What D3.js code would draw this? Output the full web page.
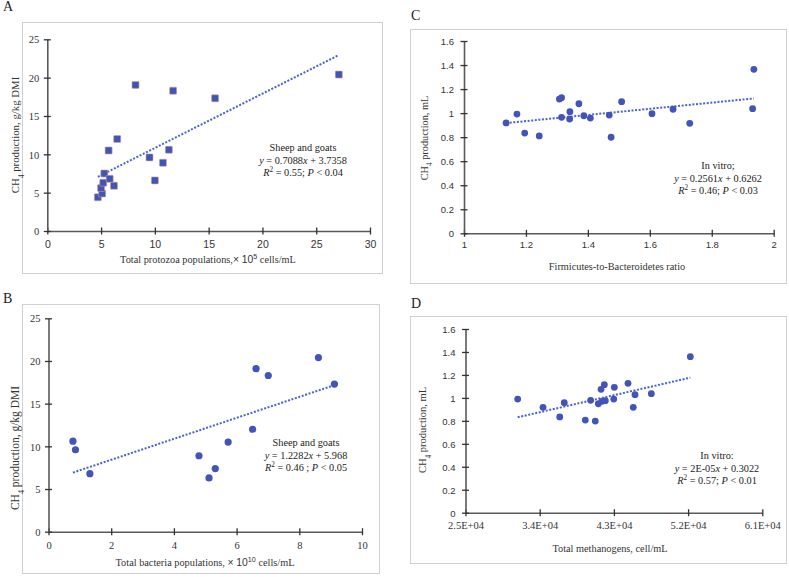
<!DOCTYPE html>
<html>
<head>
<meta charset="utf-8">
<script src="https://cdn.jsdelivr.net/npm/d3@7/dist/d3.min.js"></script>
<style>
  html, body { margin: 0; padding: 0; background: #fff; }
  svg { display: block; }
</style>
</head>
<body>
<svg id="chart" width="789" height="577"></svg>
<script>
// ---------------- DATA ----------------
// Panel A: total protozoa (x 10^5 cells/mL) vs CH4 (g/kg DMI)
const protozoaX = [4.7, 5.1, 5.0, 5.2, 5.3, 5.8, 6.2, 5.7, 6.5, 8.2, 9.5, 10.0, 10.75, 11.3, 11.7, 15.6, 27.1];
const protozoaCH4 = [4.4, 4.9, 5.6, 6.3, 7.5, 6.8, 5.9, 10.5, 12.0, 19.05, 9.6, 6.6, 8.9, 10.6, 18.3, 17.3, 20.4];
const trendA = [0.7088, 3.7358];
const ticksA_X = [0, 5, 10, 15, 20, 25, 30];
const ticksA_Y = [0, 5, 10, 15, 20, 25];

// Panel B: total bacteria (x 10^10 cells/mL) vs CH4 (g/kg DMI)
const bacteriaX = [0.78, 0.86, 1.32, 4.8, 5.12, 5.32, 5.73, 6.51, 6.62, 7.01, 8.61, 9.12];
const bacteriaCH4 = [10.6, 9.6, 6.8, 8.9, 6.3, 7.4, 10.5, 12.0, 19.1, 18.3, 20.4, 17.3];
const trendB = [1.2282, 5.968];
const ticksB_X = [0, 2, 4, 6, 8, 10];
const ticksB_Y = [0, 5, 10, 15, 20, 25];

// Panel C: Firmicutes-to-Bacteroidetes ratio vs CH4 (mL)
const fbRatioX = [1.136, 1.171, 1.196, 1.243, 1.308, 1.315, 1.315, 1.342, 1.341, 1.371, 1.387, 1.408, 1.469, 1.475, 1.509, 1.607, 1.675, 1.729, 1.932, 1.936];
const fbCH4 = [0.918, 0.992, 0.834, 0.81, 1.117, 1.128, 0.965, 1.012, 0.951, 1.078, 0.978, 0.959, 0.984, 0.799, 1.095, 0.995, 1.032, 0.915, 1.037, 1.364];
const trendC = [0.2561, 0.6262];
const ticksC_X = [1, 1.2, 1.4, 1.6, 1.8, 2];
const ticksC_Y = [0, 0.2, 0.4, 0.6, 0.8, 1, 1.2, 1.4, 1.6];

// Panel D: total methanogens (cell/mL) vs CH4 (mL)
const methanogensX = [31330, 34400, 36430, 36980, 39530, 40180, 40740, 41110, 41440, 41560, 41840, 41960, 42980, 43050, 44710, 45350, 45560, 47540, 52270];
const methanogensCH4 = [0.990, 0.918, 0.834, 0.958, 0.807, 0.979, 0.798, 0.949, 1.075, 0.970, 1.115, 0.976, 0.990, 1.092, 1.127, 0.918, 1.028, 1.037, 1.359];
const trendD = [1.65e-5, 0.314];
const ticksD_X = [25000, 34000, 43000, 52000, 61000];
const ticksD_Y = [0, 0.2, 0.4, 0.6, 0.8, 1, 1.2, 1.4, 1.6];

// ---------------- DRAWING ----------------
const SERIF = "'Liberation Serif', 'Times New Roman', serif";
const SANS = "'Liberation Sans', Arial, sans-serif";
const MARK = "#4354b8";
const LINE = "#4a62d0";
const AXIS = "#595959";

const svg = d3.select("#chart");
svg.append("rect").attr("width", 789).attr("height", 577).attr("fill", "#fff");

function expFmt(v) {
  const e = Math.floor(Math.log10(v));
  const m = v / Math.pow(10, e);
  return m.toFixed(1) + "E+" + String(e).padStart(2, "0");
}

function addRich(textSel, parts) {
  parts.forEach(p => {
    const t = textSel.append("tspan").text(p.t);
    if (p.i) t.attr("font-style", "italic");
    if (p.f) t.attr("font-family", p.f);
    if (p.sub) t.attr("font-size", "0.7em").attr("baseline-shift", "sub");
    if (p.sup) t.attr("font-size", "0.7em").attr("baseline-shift", "super");
  });
}

function drawPanel(cfg) {
  const g = svg.append("g");
  g.append("rect")
    .attr("x", cfg.frame[0] + 0.5).attr("y", cfg.frame[1] + 0.5)
    .attr("width", cfg.frame[2] - cfg.frame[0]).attr("height", cfg.frame[3] - cfg.frame[1])
    .attr("fill", "#fff").attr("stroke", "#d0d0d0").attr("stroke-width", 1);

  g.append("text").attr("x", cfg.letter[0]).attr("y", cfg.letter[1])
    .attr("font-family", SERIF).attr("font-size", 14).attr("fill", "#222").text(cfg.name);

  const x = d3.scaleLinear().domain(cfg.xDomain).range([cfg.plot[0], cfg.plot[2]]);
  const y = d3.scaleLinear().domain(cfg.yDomain).range([cfg.plot[3], cfg.plot[1]]);

  // trend line
  const x0 = d3.min(cfg.xs), x1 = d3.max(cfg.xs);
  const tl = [x0, x1].map(v => [v, cfg.trend[0] * v + cfg.trend[1]]);
  g.append("path")
    .attr("d", d3.line().x(d => x(d[0])).y(d => y(d[1]))(tl))
    .attr("fill", "none").attr("stroke", LINE).attr("stroke-width", 2)
    .attr("stroke-dasharray", "2,1.6");

  // x axis
  const xa = g.append("g").attr("transform", `translate(0,${cfg.plot[3]})`)
    .call(d3.axisBottom(x).tickValues(cfg.xTicks).tickFormat(cfg.xFmt).tickSizeInner(4).tickSizeOuter(0));
  xa.select(".domain").attr("stroke", AXIS).attr("stroke-width", 1.6);
  xa.selectAll(".tick line").attr("stroke", "#333").attr("stroke-width", 1.3).attr("y1", -3.5).attr("y2", 3.5);
  xa.selectAll(".tick text").attr("y", cfg.xLabelDy).attr("dy", 0)
    .attr("font-family", cfg.xFont).attr("font-size", cfg.xFontSize).attr("fill", "#333");

  // y axis
  const ya = g.append("g").attr("transform", `translate(${cfg.plot[0]},0)`)
    .call(d3.axisLeft(y).tickValues(cfg.yTicks).tickFormat(cfg.yFmt).tickSizeInner(4).tickSizeOuter(0));
  ya.select(".domain").attr("stroke", AXIS).attr("stroke-width", 1.6);
  ya.selectAll(".tick line").attr("stroke", "#333").attr("stroke-width", 1.3).attr("x1", -3.5).attr("x2", 3.5);
  ya.selectAll(".tick text").attr("x", -cfg.yLabelGap).attr("dy", "0.35em")
    .attr("font-family", cfg.yFont).attr("font-size", cfg.yFontSize).attr("fill", "#333");

  // markers
  const pts = cfg.xs.map((v, i) => [v, cfg.ys[i]]);
  if (cfg.square) {
    g.selectAll("rect.pt").data(pts).join("rect").attr("class", "pt")
      .attr("x", d => x(d[0]) - 3.5).attr("y", d => y(d[1]) - 3.5)
      .attr("width", 7).attr("height", 7).attr("rx", 0.8)
      .attr("fill", MARK).attr("stroke", "#c9a58a").attr("stroke-width", 0.6);
  } else {
    g.selectAll("circle.pt").data(pts).join("circle").attr("class", "pt")
      .attr("cx", d => x(d[0])).attr("cy", d => y(d[1])).attr("r", cfg.r)
      .attr("fill", MARK);
  }

  // axis titles
  const xt = g.append("text").attr("x", cfg.xTitle[0]).attr("y", cfg.xTitle[1])
    .attr("text-anchor", "middle").attr("font-family", SERIF).attr("font-size", cfg.xTitleSize).attr("fill", "#333");
  addRich(xt, cfg.xTitleParts);

  const yt = g.append("text")
    .attr("transform", `translate(${cfg.yTitle[0]},${cfg.yTitle[1]}) rotate(-90)`)
    .attr("text-anchor", "middle").attr("font-family", SERIF).attr("font-size", cfg.yTitleSize).attr("fill", "#333");
  addRich(yt, cfg.yTitleParts);

  // annotation
  cfg.note.forEach((line, i) => {
    const t = g.append("text").attr("x", cfg.noteXY[0]).attr("y", cfg.noteXY[1] + i * 12.6)
      .attr("text-anchor", "middle").attr("font-family", SERIF).attr("font-size", 10.3).attr("fill", "#222");
    addRich(t, line);
  });
}

const ch4Title = unit => [{t: "CH"}, {t: "4", sub: true}, {t: " production, " + unit}];

drawPanel({
  name: "A", letter: [3, 11], frame: [22, 22, 382, 273],
  plot: [47.3, 39.3, 370, 231],
  xDomain: [0, 30], yDomain: [0, 25], xs: protozoaX, ys: protozoaCH4, trend: trendA,
  xTicks: ticksA_X, yTicks: ticksA_Y, xFmt: d3.format("d"), yFmt: d3.format("d"),
  xFont: SANS, xFontSize: 10.5, xLabelDy: 17, yFont: SERIF, yFontSize: 10.5, yLabelGap: 8,
  square: true,
  xTitle: [208, 263], xTitleSize: 10.3,
  xTitleParts: [{t: "Total protozoa populations,"}, {t: "× 10", f: SANS}, {t: "5", sup: true, f: SANS}, {t: " cells/mL"}],
  yTitle: [19, 135], yTitleSize: 10.8, yTitleParts: ch4Title("g/kg DMI"),
  noteXY: [303, 151],
  note: [
    [{t: "Sheep and goats"}],
    [{t: "y", i: true}, {t: " = 0.7088"}, {t: "x", i: true}, {t: " + 3.7358"}],
    [{t: "R", i: true}, {t: "2", sup: true}, {t: " = 0.55; "}, {t: "P", i: true}, {t: " < 0.04"}]
  ]
});

drawPanel({
  name: "B", letter: [3, 303], frame: [22, 304, 379, 573],
  plot: [48.5, 318.3, 362, 531.7],
  xDomain: [0, 10], yDomain: [0, 25], xs: bacteriaX, ys: bacteriaCH4, trend: trendB,
  xTicks: ticksB_X, yTicks: ticksB_Y, xFmt: d3.format("d"), yFmt: d3.format("d"),
  xFont: SERIF, xFontSize: 10.5, xLabelDy: 17, yFont: SERIF, yFontSize: 10.5, yLabelGap: 8,
  square: false, r: 3.6,
  xTitle: [205, 566], xTitleSize: 10.3,
  xTitleParts: [{t: "Total bacteria populations, "}, {t: "× 10", f: SANS}, {t: "10", sup: true, f: SANS}, {t: " cells/mL"}],
  yTitle: [19, 448], yTitleSize: 11.5, yTitleParts: ch4Title("g/kg DMI"),
  noteXY: [306, 446],
  note: [
    [{t: "Sheep and goats"}],
    [{t: "y", i: true}, {t: " = 1.2282"}, {t: "x", i: true}, {t: " + 5.968"}],
    [{t: "R", i: true}, {t: "2", sup: true}, {t: " = 0.46 ; "}, {t: "P", i: true}, {t: " < 0.05"}]
  ]
});

drawPanel({
  name: "C", letter: [411, 20], frame: [410, 29, 786, 283],
  plot: [464, 41, 773.7, 233.3],
  xDomain: [1, 2], yDomain: [0, 1.6], xs: fbRatioX, ys: fbCH4, trend: trendC,
  xTicks: ticksC_X, yTicks: ticksC_Y, xFmt: d => String(+d.toFixed(1)), yFmt: d => String(+d.toFixed(1)),
  xFont: SANS, xFontSize: 9.5, xLabelDy: 15, yFont: SANS, yFontSize: 9.5, yLabelGap: 10,
  square: false, r: 3.4,
  xTitle: [617, 270], xTitleSize: 10.3, xTitleParts: [{t: "Firmicutes-to-Bacteroidetes ratio"}],
  yTitle: [428, 138], yTitleSize: 10.3, yTitleParts: ch4Title("mL"),
  noteXY: [718, 169],
  note: [
    [{t: "In vitro;"}],
    [{t: "y", i: true}, {t: " = 0.2561"}, {t: "x", i: true}, {t: " + 0.6262"}],
    [{t: "R", i: true}, {t: "2", sup: true}, {t: " = 0.46; "}, {t: "P", i: true}, {t: " < 0.03"}]
  ]
});

drawPanel({
  name: "D", letter: [411, 308], frame: [410, 316, 786, 563],
  plot: [465.5, 329, 762.3, 512.7],
  xDomain: [25000, 61000], yDomain: [0, 1.6], xs: methanogensX, ys: methanogensCH4, trend: trendD,
  xTicks: ticksD_X, yTicks: ticksD_Y, xFmt: expFmt, yFmt: d => String(+d.toFixed(1)),
  xFont: SERIF, xFontSize: 10.5, xLabelDy: 16, yFont: SANS, yFontSize: 9.5, yLabelGap: 10,
  square: false, r: 3.4,
  xTitle: [610, 552], xTitleSize: 10.3, xTitleParts: [{t: "Total methanogens, cell/mL"}],
  yTitle: [426, 430], yTitleSize: 10.5, yTitleParts: ch4Title("mL"),
  noteXY: [717, 459],
  note: [
    [{t: "In vitro:"}],
    [{t: "y", i: true}, {t: " = 2E-05"}, {t: "x", i: true}, {t: " + 0.3022"}],
    [{t: "R", i: true}, {t: "2", sup: true}, {t: " = 0.57; "}, {t: "P", i: true}, {t: " < 0.01"}]
  ]
});
</script>
</body>
</html>
